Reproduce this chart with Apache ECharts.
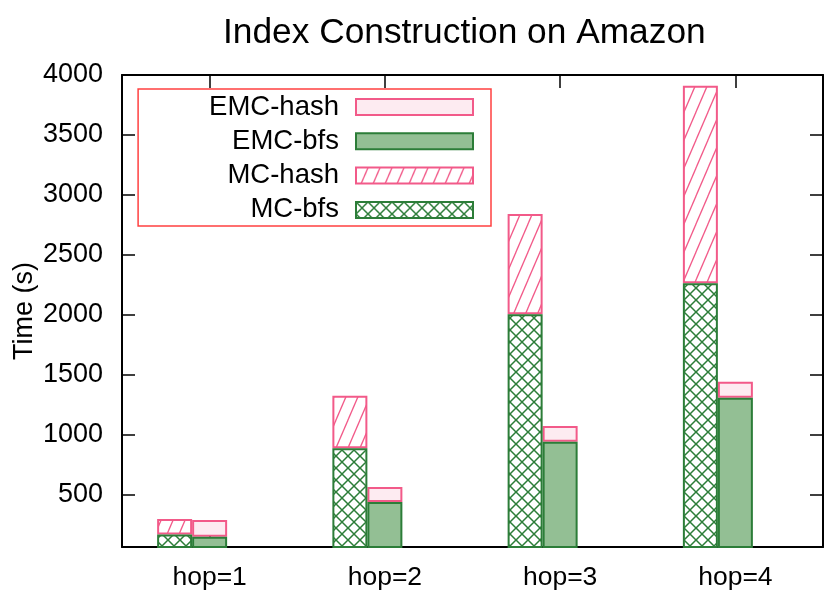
<!DOCTYPE html>
<html>
<head>
<meta charset="utf-8">
<script src="https://cdn.jsdelivr.net/npm/echarts@6/dist/echarts.min.js"></script>
<style>
  html, body { margin: 0; padding: 0; background: #fff; }
  #chart { width: 830px; height: 600px; }
</style>
</head>
<body>
<div id="chart"></div>
<script>
// data
var categories = ['hop=1', 'hop=2', 'hop=3', 'hop=4'];
var mcBfs = [172, 889, 2006, 2264];
var mcHash = [128, 439, 836, 1647];
var emcBfs = [153, 442, 944, 1311];
var emcHash = [139, 125, 131, 133];
var yTicks = [500, 1000, 1500, 2000, 2500, 3000, 3500, 4000];

var PINK = '#f25a89';
var PINK_FILL = '#fdebf1';
var GREEN = '#2c7d38';
var GREEN_FILL = '#93bf94';
var FONT = 'Liberation Sans';

// hatch "/" pattern
function hatch() {
  var w = 12, h = 28;
  var c = document.createElement('canvas');
  c.width = w; c.height = h;
  var ctx = c.getContext('2d');
  ctx.fillStyle = '#fff';
  ctx.fillRect(0, 0, w, h);
  ctx.strokeStyle = PINK;
  ctx.lineWidth = 1.3;
  for (var k = -1; k <= 1; k++) {
    ctx.beginPath();
    ctx.moveTo(k * w - w, 2 * h);
    ctx.lineTo(k * w + 2 * w, -h);
    ctx.stroke();
  }
  return { image: c, repeat: 'repeat' };
}

// crosshatch pattern
function cross() {
  var s = 12;
  var c = document.createElement('canvas');
  c.width = s; c.height = s;
  var ctx = c.getContext('2d');
  ctx.fillStyle = '#fff';
  ctx.fillRect(0, 0, s, s);
  ctx.strokeStyle = GREEN;
  ctx.lineWidth = 1.5;
  for (var k = -1; k <= 1; k++) {
    ctx.beginPath();
    ctx.moveTo(k * s, 0); ctx.lineTo(k * s + s, s);
    ctx.moveTo(k * s, s); ctx.lineTo(k * s + s, 0);
    ctx.stroke();
  }
  return { image: c, repeat: 'repeat' };
}

var chart = echarts.init(document.getElementById('chart'));

var tickStyle = { show: true, inside: true, length: 13, lineStyle: { color: '#000', width: 1.5 } };
var lineStyle = { show: true, lineStyle: { color: '#000', width: 2 } };

chart.setOption({
  animation: false,
  textStyle: { fontFamily: FONT },
  title: {
    text: 'Index Construction on Amazon',
    left: 223,
    top: 16,
    padding: 0,
    textStyle: { fontFamily: FONT, fontSize: 35.3, fontWeight: 'normal', color: '#000' }
  },
  legend: {
    orient: 'vertical',
    align: 'right',
    right: 339,
    top: 89,
    padding: [4, 17, 2, 71],
    itemWidth: 117,
    itemHeight: 16,
    itemGap: 6.3,
    borderColor: '#ff4040',
    borderWidth: 1.5,
    icon: 'rect',
    data: ['EMC-hash', 'EMC-bfs', 'MC-hash', 'MC-bfs'],
    textStyle: { fontFamily: FONT, fontSize: 27.5, color: '#000', padding: [0, 12, 0, 0] }
  },
  grid: { left: 122, right: 7, top: 75, bottom: 53, containLabel: false, outerBoundsMode: 'none' },
  xAxis: [
    {
      type: 'category',
      data: categories,
      axisLine: lineStyle,
      axisTick: Object.assign({ alignWithLabel: true }, tickStyle),
      axisLabel: { fontFamily: FONT, fontSize: 26.5, color: '#000', margin: 17 }
    },
    {
      type: 'category',
      position: 'top',
      data: categories,
      axisLine: lineStyle,
      axisTick: Object.assign({ alignWithLabel: true }, tickStyle),
      axisLabel: { show: false }
    }
  ],
  yAxis: [
    {
      type: 'value',
      min: 67,
      max: 4000,
      name: 'Time (s)',
      nameLocation: 'middle',
      nameGap: 84,
      nameMoveOverlap: false,
      nameTextStyle: { fontFamily: FONT, fontSize: 27, color: '#000' },
      axisLine: lineStyle,
      axisTick: Object.assign({ customValues: yTicks }, tickStyle),
      axisLabel: {
        customValues: yTicks, fontFamily: FONT, fontSize: 27, color: '#000', margin: 19,
        formatter: function (v) { return String(v); }
      },
      splitLine: { show: false }
    },
    {
      type: 'value',
      position: 'right',
      min: 67,
      max: 4000,
      axisLine: lineStyle,
      axisTick: Object.assign({ customValues: yTicks }, tickStyle),
      axisLabel: { show: false },
      splitLine: { show: false }
    }
  ],
  series: [
    {
      name: 'MC-bfs', type: 'bar', stack: 'mc', barWidth: 35, barGap: '0%', z: 4,
      itemStyle: { color: cross(), borderColor: GREEN, borderWidth: 2 },
      data: mcBfs
    },
    {
      name: 'MC-hash', type: 'bar', stack: 'mc', barWidth: 35, barGap: '0%', z: 3,
      itemStyle: { color: hatch(), borderColor: PINK, borderWidth: 2 },
      data: mcHash
    },
    {
      name: 'EMC-bfs', type: 'bar', stack: 'emc', barWidth: 35, barGap: '0%', z: 4,
      itemStyle: { color: GREEN_FILL, borderColor: GREEN, borderWidth: 2 },
      data: emcBfs
    },
    {
      name: 'EMC-hash', type: 'bar', stack: 'emc', barWidth: 35, barGap: '0%', z: 3,
      itemStyle: { color: PINK_FILL, borderColor: PINK, borderWidth: 2 },
      data: emcHash
    },
    {
      // empty slot gnuplot leaves after each cluster
      name: 'gap', type: 'bar', stack: 'gap', barWidth: 35, barGap: '0%',
      data: ['-', '-', '-', '-']
    }
  ]
});
</script>
</body>
</html>
